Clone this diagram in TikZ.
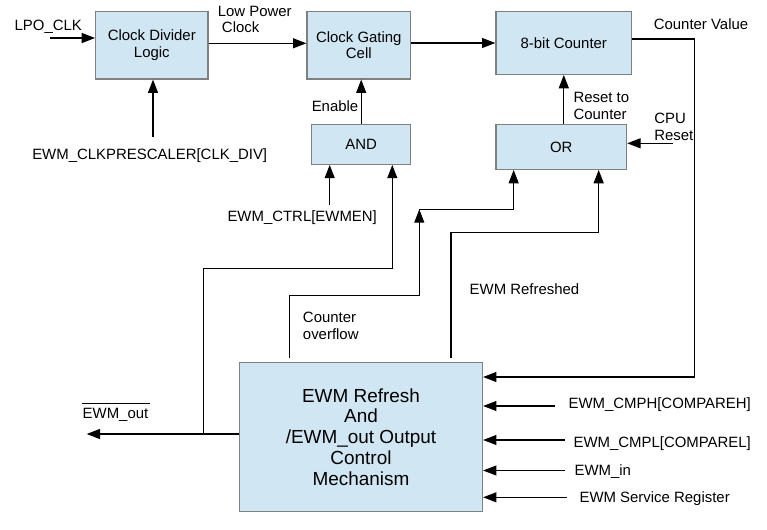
\documentclass[tikz,border=0pt]{standalone}
\usepackage{fontspec}
\setmainfont{Liberation Sans}
\usetikzlibrary{arrows.meta,calc}
\definecolor{boxfill}{RGB}{208,230,243}
\definecolor{boxline}{RGB}{128,128,128}
\begin{document}
\begin{tikzpicture}[x=0.75pt,y=-0.75pt,
  blk/.style={draw=boxline,fill=boxfill,line width=0.9pt,inner sep=0pt,align=center,font=\fontsize{11.2}{12.5}\selectfont},
  lbl/.style={inner sep=0pt,font=\fontsize{11.2}{12.3}\selectfont},
  arr/.style={-{Triangle[length=10pt,width=7.5pt]},line width=0.85pt},
  wire/.style={line width=0.85pt}]
\useasboundingbox (0,0) rectangle (767,529);
% blocks
\node[blk,minimum width=84.2pt,minimum height=50.5pt] (div) at (151.8,45.3) {Clock Divider\\Logic};
\node[blk,minimum width=77.8pt,minimum height=50.5pt] (gate) at (358.8,45.3) {Clock Gating\\Cell};
\node[blk,minimum width=101.8pt,minimum height=47pt] (cnt) at (563.8,43) {8-bit Counter};
\node[blk,minimum width=74.3pt,minimum height=29.7pt] (and) at (361.2,144.5) {AND};
\node[blk,minimum width=98pt,minimum height=33.5pt] (or) at (561.3,147) {OR};
\node[blk,minimum width=182.3pt,minimum height=111.5pt,font=\fontsize{14.2}{15.6}\selectfont] (ewm) at (361,437) {EWM Refresh\\And\\/EWM\_out Output\\Control\\Mechanism};
% labels
\node[lbl] (lpo) at (48.3,26.7) {LPO\_CLK};
\node[lbl,anchor=west] (lp1) at (217.5,11.5) {Low Power};
\node[lbl,anchor=west] (lp2) at (221.7,27.5) {Clock};
\node[lbl] (pre) at (149.7,155.7) {EWM\_CLKPRESCALER[CLK\_DIV]};
\node[lbl] (en) at (335,106) {Enable};
\node[lbl] (ctrl) at (302.2,217.5) {EWM\_CTRL[EWMEN]};
\node[lbl] (cv) at (701,24) {Counter Value};
\node[lbl,anchor=west,align=left] (rst) at (573.3,106) {Reset to\\Counter};
\node[lbl,anchor=west,align=left] (cpu) at (654,127) {CPU\\Reset};
\node[lbl,anchor=west,align=left] (ovf) at (302.7,325.7) {Counter\\overflow};
\node[lbl] (rfd) at (524.5,289.5) {EWM Refreshed};
\node[lbl] (out) at (115.5,415) {EWM\_out};
\node[lbl,anchor=west] (cmph) at (568.3,405) {EWM\_CMPH[COMPAREH]};
\node[lbl,anchor=west] (cmpl) at (573.3,443.3) {EWM\_CMPL[COMPAREL]};
\node[lbl,anchor=west] (ein) at (574.3,471.7) {EWM\_in};
\node[lbl,anchor=west] (svc) at (579.3,498.3) {EWM Service Register};
\draw[line width=0.85pt] ($(out.north west)+(-0.4,-5)$) -- ($(out.north east)+(1.7,-5)$);
% coordinates
\coordinate (lpoS) at (50,38);
\coordinate (preS) at (153,137);
\coordinate (ctrlS) at (329.7,205);
\coordinate (cpuS) at (672.7,143.3);
\coordinate (cv1) at (694.7,39);
\coordinate (cv2) at (694.7,377);
\coordinate (hS) at (555,406);
\coordinate (lS) at (565,440);
\coordinate (iS) at (565,470.5);
\coordinate (sS) at (566.7,497.3);
\coordinate (oJ) at (203.3,434);
\coordinate (oE) at (86.7,434);
\coordinate (aB) at (392.3,268.3);
\coordinate (ovB) at (289.2,295.3);
\coordinate (ovT) at (419.3,209.3);
\coordinate (rfB) at (451,232.3);
% connectors
\draw[arr] (lpoS) -- (lpoS -| div.west);
\draw[arr] ($(div.east)+(0,-2)$) -- ($(gate.west)+(0,-2)$);
\draw[arr] (gate.east |- cnt.west) -- (cnt.west);
\draw[arr] (preS) -- (preS |- div.south);
\draw[arr] (and.north) -- (and.north |- gate.south);
\draw[arr] (ctrlS) -- (ctrlS |- and.south);
\draw[arr] (cnt.south |- or.north) -- (cnt.south);
\draw[arr] (cpuS) -- (cpuS -| or.east);
\draw[arr] (cnt.east |- cv1) -- (cv1) -- (cv2) -- (cv2 -| ewm.east);
\draw[arr] (hS) -- (hS -| ewm.east);
\draw[arr] (lS) -- (lS -| ewm.east);
\draw[arr] (iS) -- (iS -| ewm.east);
\draw[arr] (sS) -- (sS -| ewm.east);
\draw[arr] (oJ -| ewm.west) -- (oE);
\draw[arr] (oJ) |- (aB) -- (aB |- and.south);
\draw[arr] ($(ewm.north -| ovB)+(0,-4)$) -- (ovB) -| (ovT);
\draw[arr] (ovT) -| ($(or.south west)+(18.3,0)$);
\draw[arr] ($(ewm.north -| rfB)+(0,-4)$) -- (rfB) -| ($(or.south west)+(103.3,0)$);
\end{tikzpicture}
\end{document}
